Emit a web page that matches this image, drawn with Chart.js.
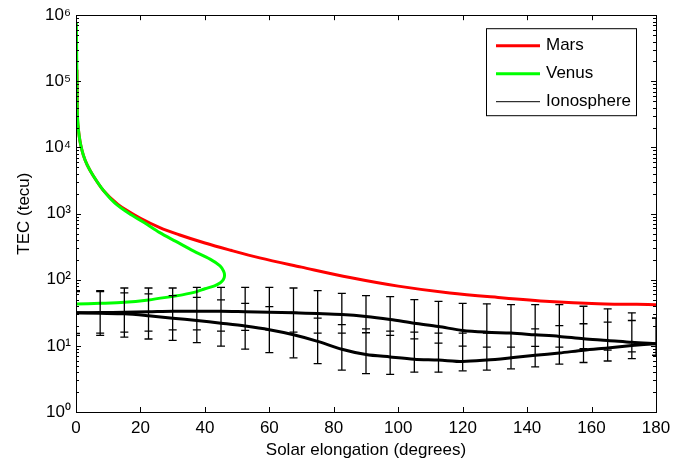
<!DOCTYPE html>
<html>
<head>
<meta charset="utf-8">
<script src="https://cdn.jsdelivr.net/npm/chart.js@4"></script>
<style>
  body { margin: 0; background: #fff; }
</style>
</head>
<body>
<canvas id="tecChart" width="699" height="466"></canvas>
<script>
// Mars: TEC along the line of sight vs solar elongation
const marsElong = [0.3, 0.35, 0.4, 0.7, 1.0, 1.45, 2.3, 3.5, 5.4, 8.5, 13, 16.5, 20, 26, 32, 40, 48, 57, 70, 85, 100, 116, 131, 147, 162, 180];
const marsTec = [150000, 60000, 34700, 20000, 14800, 11000, 7600, 5400, 3700, 2240, 1380, 1070, 850, 615, 479, 359, 279, 214, 155, 108, 80, 63, 54, 47, 43.5, 42];

// Venus: the curve folds back at ~46 degrees
const venusElong = [0.1, 0.2, 0.3, 0.4, 0.7, 1.0, 1.45, 2.3, 3.5, 5.4, 8.5, 12, 16.5, 21, 26, 31, 36.4, 41.6, 44.7, 45.8, 46.1, 45.7, 44.8, 43, 40, 37.5, 33, 30, 22.5, 15, 7.5, 0];
const venusTec = [780000, 300000, 100000, 34700, 20000, 14800, 11000, 7600, 5400, 3700, 2240, 1450, 1000, 740, 515, 380, 273, 205, 162, 135, 115, 100, 90, 81, 73, 66, 59, 56, 49.5, 45.5, 44, 43];

// Ionosphere: two mean curves
const ionoElong = [0, 7.5, 15, 22.5, 30, 37.5, 45, 52.5, 60, 67.5, 75, 82.5, 90, 97.5, 105, 112.5, 120, 127.5, 135, 142.5, 150, 157.5, 165, 172.5, 180];
const ionoUpper = [31.6, 31.9, 32.3, 32.8, 33.4, 33.4, 33.4, 32.8, 32.2, 31.6, 30.8, 29.8, 27.8, 25.0, 22.0, 19.6, 17.1, 16.1, 15.6, 14.7, 13.9, 12.8, 12.1, 11.3, 10.8];
const ionoLower = [31.6, 31.1, 30.5, 28.5, 26.2, 24.2, 22.0, 19.9, 17.5, 14.7, 11.7, 8.9, 7.4, 6.8, 6.3, 6.1, 5.8, 6.1, 6.6, 7.2, 7.8, 8.6, 9.3, 10.1, 10.8];

// Ionosphere error bars (two overlapping sets)
const barElong = ionoElong;
const barHighA = [68.4, 68.4, 75, 75, 75, 76.6, 76.6, 76.6, 76.6, 75, 68.4, 62.2, 57.5, 55.5, 50, 47.2, 44, 43.2, 42.1, 42.1, 42.1, 39.7, 36.3, 31.6, 26.2];
const barLowA = [15.4, 15.6, 16.1, 16.7, 17.5, 17.5, 16.7, 17.1, 17.5, 16.1, 15.6, 15.6, 15.8, 14.4, 12.8, 11.0, 9.9, 9.6, 9.6, 9.8, 9.6, 9.1, 8.6, 8.1, 7.2];
const barHighB = [66, 66, 63.1, 61, 57.5, 54.2, 49.5, 44, 39.3, 32.2, 26.2, 21, 18.1, 16.7, 16.1, 15.6, 15.6, 15.6, 15.8, 18.1, 20.3, 21.6, 22.8, 24.2, 26.2];
const barLowB = [14.4, 14.4, 13.6, 12.7, 12.1, 11.2, 9.9, 8.9, 7.9, 6.6, 5.4, 4.3, 3.8, 3.7, 4.0, 4.0, 4.2, 4.3, 4.5, 4.8, 5.3, 5.6, 5.9, 6.4, 7.2];

const xTickValues = [0, 20, 40, 60, 80, 100, 120, 140, 160, 180];
const yDecades = [1, 10, 100, 1000, 10000, 100000, 1000000];
const supDigits = ['\u2070', '\u00b9', '\u00b2', '\u00b3', '\u2074', '\u2075', '\u2076'];

function toPoints(xs, ys) {
    return xs.map((x, i) => ({ x: x, y: ys[i] }));
}

function barPoints(xs, lows, highs) {
    const pts = [];
    xs.forEach((x, i) => {
        pts.push({ x: x, y: lows[i] }, { x: x, y: highs[i] }, { x: x, y: null });
    });
    return pts;
}

// MATLAB style box with inward ticks
const axesBox = {
    id: 'axesBox',
    afterDatasetsDraw(chart) {
        const { ctx, chartArea: a, scales: { x, y } } = chart;
        ctx.save();
        ctx.strokeStyle = '#000';
        ctx.lineWidth = 1;
        ctx.beginPath();
        xTickValues.forEach(v => {
            const px = Math.round(x.getPixelForValue(v)) + 0.5;
            ctx.moveTo(px, a.bottom); ctx.lineTo(px, a.bottom - 5);
            ctx.moveTo(px, a.top); ctx.lineTo(px, a.top + 5);
        });
        yDecades.forEach((d, k) => {
            for (let m = 1; m <= 9; m++) {
                if (k === yDecades.length - 1 && m > 1) break;
                const len = m === 1 ? 5 : 3;
                const py = Math.round(y.getPixelForValue(d * m)) + 0.5;
                ctx.moveTo(a.left, py); ctx.lineTo(a.left + len, py);
                ctx.moveTo(a.right, py); ctx.lineTo(a.right - len, py);
            }
        });
        ctx.stroke();
        ctx.strokeRect(Math.round(a.left) + 0.5, Math.round(a.top) + 0.5,
            Math.round(a.right - a.left), Math.round(a.bottom - a.top));
        ctx.restore();
    }
};

const boxLegend = {
    id: 'boxLegend',
    afterDraw(chart) {
        const { ctx, chartArea: a } = chart;
        const items = chart.data.datasets.filter(d => d.label);
        const w = 150, h = 87;
        const left = a.right - 20 - w, top = a.top + 13;
        ctx.save();
        ctx.fillStyle = '#fff';
        ctx.fillRect(left, top, w, h);
        ctx.strokeStyle = '#000';
        ctx.lineWidth = 1;
        ctx.strokeRect(left + 0.5, top + 0.5, w, h);
        ctx.font = '17px "Liberation Sans", Arial, sans-serif';
        ctx.textBaseline = 'middle';
        ctx.fillStyle = '#000';
        items.forEach((d, i) => {
            const rowY = top + 17.5 + i * 28;
            ctx.strokeStyle = d.borderColor;
            ctx.lineWidth = d.legendWidth;
            ctx.beginPath();
            ctx.moveTo(left + 10, rowY);
            ctx.lineTo(left + 54, rowY);
            ctx.stroke();
            ctx.fillText(d.label, left + 60, rowY);
        });
        ctx.restore();
    }
};

Chart.defaults.font.family = '"Liberation Sans", Arial, sans-serif';
Chart.defaults.font.size = 17;
Chart.defaults.color = '#000';

const ctx = document.getElementById('tecChart').getContext('2d');
new Chart(ctx, {
    type: 'scatter',
    data: {
        datasets: [
            {
                label: 'Mars',
                data: toPoints(marsElong, marsTec),
                showLine: true, borderColor: '#ff0000', borderWidth: 3, legendWidth: 3,
                pointRadius: 0, cubicInterpolationMode: 'monotone', order: 3
            },
            {
                label: 'Venus',
                data: toPoints(venusElong, venusTec),
                showLine: true, borderColor: '#00ff00', borderWidth: 3, legendWidth: 3,
                pointRadius: 0, tension: 0.3, order: 2
            },
            {
                label: 'Ionosphere',
                data: barPoints(barElong, barLowA, barHighA).concat(barPoints(barElong, barLowB, barHighB)),
                showLine: true, spanGaps: false, borderColor: '#000', borderWidth: 1.3, legendWidth: 1,
                pointStyle: 'line', pointRadius: 4, pointBorderWidth: 1.3, pointBorderColor: '#000',
                order: 0
            },
            {
                data: toPoints(ionoElong, ionoUpper),
                showLine: true, borderColor: '#000', borderWidth: 3,
                pointRadius: 0, tension: 0.3, order: 1
            },
            {
                data: toPoints(ionoElong, ionoLower),
                showLine: true, borderColor: '#000', borderWidth: 3,
                pointRadius: 0, tension: 0.3, order: 1
            }
        ]
    },
    options: {
        responsive: false,
        animation: false,
        events: [],
        layout: { padding: { top: 13, right: 43, left: 0, bottom: 0 } },
        plugins: { legend: { display: false }, tooltip: { enabled: false } },
        scales: {
            x: {
                type: 'linear', min: 0, max: 180,
                grid: { display: false, drawTicks: false },
                border: { display: false },
                ticks: { stepSize: 20, padding: 6, maxRotation: 0 },
                title: { display: true, text: 'Solar elongation (degrees)', padding: { top: 0, bottom: 5 } },
                afterFit: s => { s.height = 54; }
            },
            y: {
                type: 'logarithmic', min: 1, max: 1000000,
                grid: { display: false, drawTicks: false },
                border: { display: false },
                afterBuildTicks: s => { s.ticks = yDecades.map(v => ({ value: v })); },
                ticks: {
                    padding: 5,
                    callback: v => '10' + supDigits[Math.round(Math.log10(v))]
                },
                title: { display: true, text: 'TEC (tecu)', padding: { top: 14, bottom: 0 } },
                afterFit: s => { s.width = 76; }
            }
        }
    },
    plugins: [axesBox, boxLegend]
});
</script>
</body>
</html>
